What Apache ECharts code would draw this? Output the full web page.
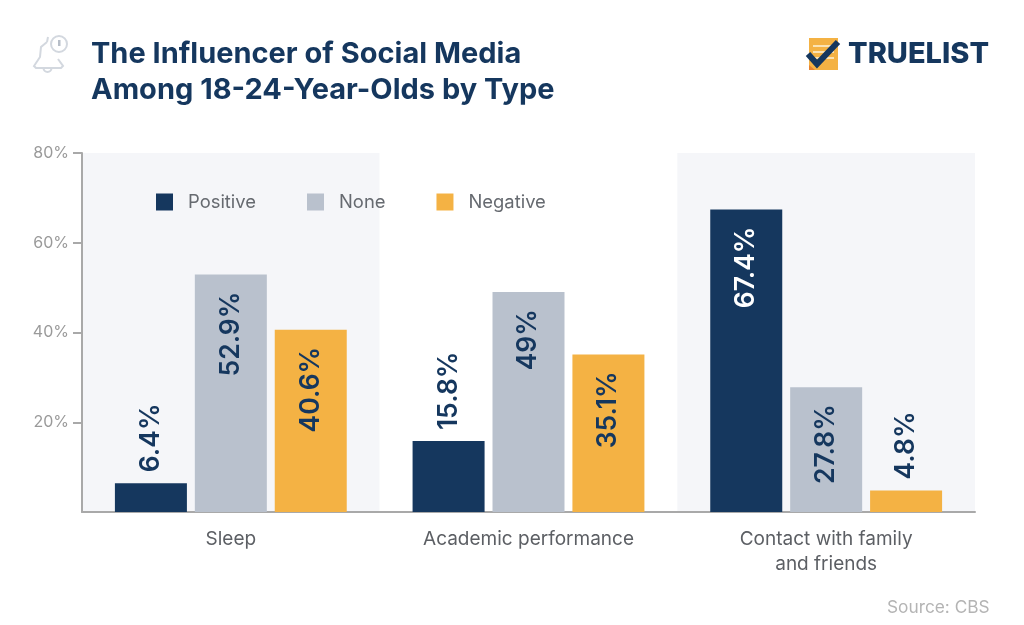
<!DOCTYPE html>
<html><head><meta charset="utf-8">
<style>html,body{margin:0;padding:0;background:#fff}#c{width:1024px;height:625px}</style>
<script src="https://cdn.jsdelivr.net/npm/echarts@6/dist/echarts.min.js"></script>
</head><body><div id="c"></div>
<script>
const categories = ['Sleep', 'Academic performance', 'Contact with family\nand friends'];
const positive = [6.4, 15.8, 67.4];
const none = [52.9, 49, 27.8];
const negative = [40.6, 35.1, 4.8];
const labelTexts = {Positive:['6.4%','15.8%','67.4%'], None:['52.9%','49%','27.8%'], Negative:['40.6%','35.1%','4.8%']};
const yTickValues = [20, 40, 60, 80];
const outsideBelow = 16;
const NAVY='#15375e', GREY='#b9c1cd', AMBER='#f4b244', FONT='Inter, "Noto Sans", sans-serif';

function seriesFor(name, values, color){
  return {
    name, type:'bar', data: values.map((v,i)=>{
      const outside = v < outsideBelow;
      return {value:v, label:{
        position: outside?'top':'insideTop',
        align: outside?'left':'right',
        distance: outside?11:17,
        color: v>60?'#ffffff':NAVY
      }};
    }),
    itemStyle:{color}, barWidth:72, barGap:'11%',
    label:{show:true, rotate:90, verticalAlign:'middle', fontFamily:FONT, fontWeight:600, fontSize:26.5,
      formatter:p=>labelTexts[name][p.dataIndex]}
  };
}
const chart = echarts.init(document.getElementById('c'),null,{renderer:'canvas'});
const bellStyle={fill:'none',stroke:'#d3d8df',lineWidth:2};
chart.setOption({
  animation:false, backgroundColor:'#ffffff',
  title:{text:'The Influencer of Social Media\nAmong 18-24-Year-Olds by Type', left:86, top:31, padding:5,
    textStyle:{fontFamily:FONT,fontWeight:700,fontSize:29,lineHeight:36,color:NAVY}},
  legend:{left:151, top:188, itemWidth:17, itemHeight:17, itemGap:51, icon:'rect',
    textStyle:{fontFamily:FONT,fontSize:18.4,color:'#666a70',padding:[0,0,0,10]},
    data:['Positive','None','Negative']},
  grid:{left:82,right:49,top:153,bottom:113},
  xAxis:{type:'category',data:categories,
    axisLine:{lineStyle:{color:'#a9a9a9',width:2}},axisTick:{show:false},
    axisLabel:{fontFamily:FONT,fontSize:19,color:'#5c5f64',margin:15,lineHeight:25},
    splitArea:{show:true,areaStyle:{color:['#f5f6f9','#ffffff']}}},
  yAxis:{type:'value',min:0,max:80,interval:20,
    axisLine:{show:true,lineStyle:{color:'#a9a9a9',width:2}},
    axisTick:{show:true,customValues:yTickValues,length:9,lineStyle:{color:'#a9a9a9',width:2}},
    splitLine:{show:false},
    axisLabel:{fontFamily:FONT,fontSize:16,color:'#9a9a9a',margin:13,
      formatter:v=>v===0?'':v+'%'}},
  series:[seriesFor('Positive',positive,NAVY),seriesFor('None',none,GREY),seriesFor('Negative',negative,AMBER)],
  graphic:[
    {type:'text',x:887,y:599,style:{text:'Source: CBS',fontFamily:FONT,fontSize:17.3,fill:'#b4b4b4'}},
    {type:'group',x:33,y:35,silent:true,children:[
      {type:'polyline',shape:{points:[[14,7],[8,12],[7,22],[1,31],[3,33],[28,33],[30,31],[25,24]]},style:bellStyle},
      {type:'line',shape:{x1:14,y1:7,x2:15,y2:2},style:bellStyle},
      {type:'arc',shape:{cx:14.5,cy:33,r:4,startAngle:0,endAngle:Math.PI},style:bellStyle},
      {type:'circle',shape:{cx:26,cy:9,r:8},style:{fill:'#fff',stroke:'#d3d8df',lineWidth:2}},
      {type:'rect',shape:{x:25,y:5,width:2.5,height:6},style:{fill:'#b7bec8'}}
    ]},
    {type:'group',x:806,y:37,silent:true,children:[
      {type:'rect',shape:{x:3,y:1,width:29,height:32},style:{fill:'#f4b244'}},
      {type:'polygon',shape:{points:[[3,28],[9,33],[3,33]]},style:{fill:'#e8832f'}},
      {type:'rect',shape:{x:7,y:8,width:21,height:2},style:{fill:'#fbe3b4'}},
      {type:'rect',shape:{x:7,y:14,width:21,height:2},style:{fill:'#fbe3b4'}},
      {type:'rect',shape:{x:7,y:20,width:21,height:2},style:{fill:'#fbe3b4'}},
      {type:'polyline',shape:{points:[[2,17],[11,27],[32,5]]},style:{fill:'none',stroke:NAVY,lineWidth:6}}
    ]},
    {type:'text',x:848,y:40,style:{text:'TRUELIST',fontFamily:FONT,fontWeight:800,fontSize:29,fill:NAVY}}
  ]
});
</script></body></html>
